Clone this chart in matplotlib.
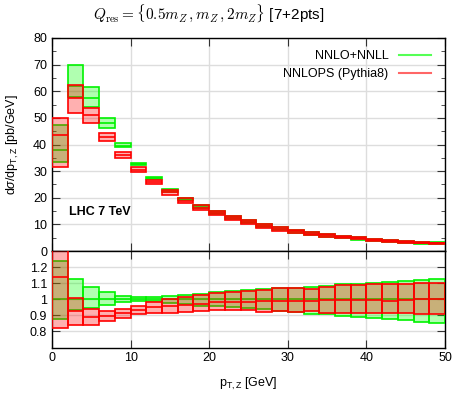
import numpy as np
import matplotlib
matplotlib.use("Agg")
import matplotlib.pyplot as plt
from matplotlib.lines import Line2D
from matplotlib.ticker import MultipleLocator, FixedLocator, FuncFormatter

plt.rcParams['font.family'] = ['Liberation Sans', 'DejaVu Sans']
plt.rcParams['mathtext.fontset'] = 'custom'
plt.rcParams['mathtext.rm'] = 'Liberation Sans'
plt.rcParams['mathtext.it'] = 'Liberation Sans:italic'
plt.rcParams['mathtext.bf'] = 'Liberation Sans:bold'
plt.rcParams['mathtext.sf'] = 'Liberation Sans'

# ---- data ----
bin_edges = np.arange(0, 52, 2)
# NNLO+NNLL central value [pb/GeV]
nnll_central = [38.1, 61.9, 57.3, 47.9, 39.6, 32.7, 27.3, 22.9, 19.6, 16.8,
                14.4, 12.6, 11.0, 9.5, 8.3, 7.5, 6.6, 5.9, 5.3, 4.8,
                4.2, 3.8, 3.4, 3.1, 2.9]
# ratios to NNLO+NNLL central
nnll_hi_ratio = [1.239, 1.127, 1.074, 1.045, 1.023, 1.011, 1.013, 1.018, 1.025, 1.035,
                 1.042, 1.049, 1.058, 1.065, 1.072, 1.073, 1.076, 1.084, 1.094, 1.096,
                 1.100, 1.107, 1.115, 1.121, 1.127]
nnll_lo_ratio = [0.875, 0.933, 0.947, 0.967, 0.982, 0.991, 0.992, 0.974, 0.968, 0.961,
                 0.955, 0.951, 0.945, 0.937, 0.928, 0.920, 0.910, 0.906, 0.896, 0.890,
                 0.886, 0.875, 0.869, 0.861, 0.855]
nnlops_hi_ratio = [1.31, 1.009, 0.937, 0.926, 0.941, 0.961, 0.980, 1.004, 1.015, 1.029,
                   1.039, 1.045, 1.050, 1.060, 1.070, 1.070, 1.066, 1.076, 1.086, 1.090,
                   1.094, 1.094, 1.094, 1.100, 1.100]
nnlops_c_ratio = [1.141, 0.930, 0.890, 0.896, 0.912, 0.935, 0.949, 0.960, 0.963, 0.972,
                  0.982, 0.984, 0.986, 0.988, 0.992, 0.988, 0.992, 0.996, 0.996, 0.994,
                  0.994, 0.992, 0.994, 1.000, 1.000]
nnlops_lo_ratio = [0.824, 0.840, 0.839, 0.865, 0.886, 0.908, 0.915, 0.917, 0.923, 0.926,
                   0.931, 0.931, 0.931, 0.923, 0.926, 0.923, 0.926, 0.917, 0.917, 0.915,
                   0.912, 0.912, 0.912, 0.910, 0.910]
labels = ["NNLO+NNLL", "NNLOPS (Pythia8)"]

# ---- figure ----
fig = plt.figure(figsize=(4.56, 3.97), dpi=100)
L, R = 52/456, 445/456
ax = fig.add_axes([L, 1-251/397, R-L, (251-38)/397])
axr = fig.add_axes([L, 1-347.5/397, R-L, (347.5-251)/397], sharex=ax)

left = np.array(bin_edges[:-1], float)
w = np.diff(bin_edges)
c = np.array(nnll_central)
g_hi, g_lo = np.array(nnll_hi_ratio), np.array(nnll_lo_ratio)
r_hi, r_c, r_lo = np.array(nnlops_hi_ratio), np.array(nnlops_c_ratio), np.array(nnlops_lo_ratio)

GF, GE = (0, 1, 0, 0.31), (0.0, 0.95, 0.0)
RF, RE = (1, 0, 0, 0.31), (1.0, 0.0, 0.0)

def draw(axis, scale):
    # green band
    axis.bar(left, (g_hi - g_lo) * scale, width=w, bottom=g_lo * scale, align='edge',
             color=GF, edgecolor=GE, linewidth=1.2, zorder=3)
    axis.hlines(1.0 * scale, left, left + w, color=GE, linewidth=1.2, zorder=3)
    # red band
    axis.bar(left, (r_hi - r_lo) * scale, width=w, bottom=r_lo * scale, align='edge',
             color=RF, edgecolor=RE, linewidth=1.2, zorder=4)
    axis.hlines(r_c * scale, left, left + w, color=RE, linewidth=1.2, zorder=4)

draw(ax, c)
draw(axr, np.ones_like(c))

for a in (ax, axr):
    a.set_xlim(0, 50)
    a.grid(True, color='#dddddd', linewidth=1.0, zorder=0)
    a.set_axisbelow(True)
    a.tick_params(which='both', direction='in', top=True, right=True,
                  labelsize=9, color='#333333')
    a.tick_params(which='major', length=6)
    a.tick_params(which='minor', length=3)
    for s in a.spines.values():
        s.set_linewidth(1.0)
    a.xaxis.set_major_locator(MultipleLocator(10))

ax.set_ylim(0, 80)
ax.yaxis.set_major_locator(MultipleLocator(10))
ax.yaxis.set_minor_locator(MultipleLocator(5))
ax.tick_params(labelbottom=False)

axr.set_ylim(0.7, 1.3)
axr.yaxis.set_major_locator(FixedLocator([0.8, 0.9, 1.0, 1.1, 1.2]))
axr.yaxis.set_major_formatter(FuncFormatter(lambda v, p: ('%g' % round(v, 2))))

ax.set_ylabel(r'd$\sigma$/dp$_{\mathrm{T,Z}}$ [pb/GeV]', fontsize=9)
ax.yaxis.set_label_coords(-0.08, 0.5)
axr.set_xlabel(r'p$_{\mathrm{T,Z}}$ [GeV]', fontsize=9, labelpad=8)

ax.text(2.1, 14.5, 'LHC 7 TeV', fontsize=9, fontweight='bold', va='center', ha='left')

handles = [Line2D([], [], color='#55ff55', linewidth=1.5),
           Line2D([], [], color='#ff6666', linewidth=1.5)]
ax.legend(handles, labels, loc='upper right', frameon=False, markerfirst=False,
          fontsize=9, handlelength=2.6, borderaxespad=0.4, labelspacing=0.5,
          bbox_to_anchor=(0.99, 0.99))

fig.text(209/456, 1-13/397,
         r'$Q_{\rm res}=\{0.5m_Z\,,m_Z\,,2m_Z\}$ [7+2pts]', fontsize=11,
         ha='center', va='center', math_fontfamily='cm')

fig.savefig('out.png', dpi=100)
